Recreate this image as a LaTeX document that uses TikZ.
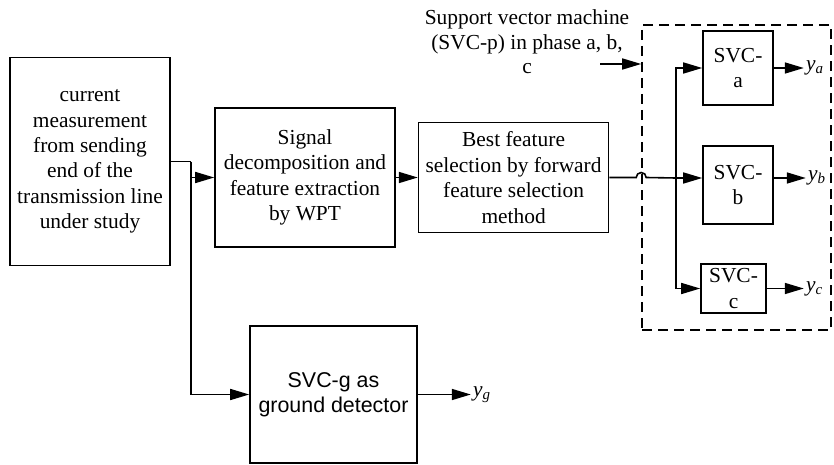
\documentclass[tikz,border=0pt]{standalone}
\usepackage{fontspec}
\setmainfont{Liberation Serif}
\setsansfont{Liberation Sans}
\usetikzlibrary{calc, arrows.meta, positioning}
\tikzset{
  >={Triangle[width=5.5pt,length=9.5pt]},
  base/.style = {rectangle, draw=black, line width=0.8pt, inner sep=0pt,
                 align=center, font=\fontsize{10.7}{12.7}\selectfont},
  block/.style = {base},
  svcbox/.style = {base, minimum width=35pt},
  outlabel/.style = {inner sep=1pt, font=\fontsize{10.7}{12.7}\selectfont\itshape},
  conn/.style = {->, line width=0.8pt},
}
\newcommand{\outy}[1]{y\textsubscript{#1}}

\begin{document}
\begin{tikzpicture}[x=0.5pt, y=-0.5pt]
  \useasboundingbox (0,0) rectangle (834,465);

  % main chain
  \node (meas) [block, minimum width=80pt, minimum height=104pt] at (90,161.5)
    {current\\measurement\\from sending\\end of the\\transmission line\\under study};
  \node (wpt) [block, minimum width=90pt, minimum height=69.5pt] at (305,177.5)
    {Signal\\decomposition and\\feature extraction\\by WPT};
  \node (ffs) [block, minimum width=95pt, minimum height=55pt, right=11pt of wpt]
    {Best feature\\selection by forward\\feature selection\\method};
  \node (svcg) [block, minimum width=83.5pt, minimum height=68.5pt, font=\fontsize{10.7}{12.7}\sffamily]
    at (333.5,394.5) {SVC-g as\\ground detector};

  % phase classifiers
  \node (group) [draw, dashed, dash pattern=on 5pt off 3pt, line width=0.8pt,
                 minimum width=94.5pt, minimum height=152.5pt] at (736.5,177.5) {};
  \node (svca) [svcbox, minimum height=37pt] at (738,68) {SVC-\\a};
  \node (svcb) [svcbox, minimum height=39pt] at (738,185) {SVC-\\b};
  \node (svcc) [svcbox, minimum width=32.5pt, minimum height=24.5pt] at (733.5,288.5) {SVC-\\c};
  \node (svmtext) [align=center, font=\fontsize{10.7}{12.25}\selectfont] at (527,42)
    {Support vector machine\\(SVC-p) in phase a, b,\\c};

  \coordinate (split) at (191,161.5);
  \coordinate (fork) at (676,178);
  \coordinate (pin) at (600,64);
  \coordinate (bout) at (svcb.east |- fork);

  % outputs
  \node (ya) [outlabel, right=15pt of svca.east] {\outy{a}};
  \node (yb) [outlabel, right=16pt of bout] {\outy{b}};
  \node (yc) [outlabel, right=18.5pt of svcc.east] {\outy{c}};
  \node (yg) [outlabel, right=26.5pt of svcg.east] {\outy{g}};

  \draw[line width=0.8pt] (meas.east) -- (split);
  \draw[conn] (split) |- (svcg.west);
  \draw[conn] (split |- wpt.west) -- (wpt.west);
  \draw[conn] (wpt) -- (ffs);
  \draw[line width=0.8pt] (ffs.east) -- ($(group.west |- ffs.east)+(-2.5pt,0)$)
    arc[start angle=180, end angle=0, radius=2.5pt] -- (fork);
  \draw[conn] (fork) |- (svca.west);
  \draw[conn] (fork) -- (svcb.west |- fork);
  \draw[conn] (fork) |- (svcc.west);
  \draw[conn] (pin) -- (pin -| group.west);
  \draw[conn] (svca) -- (ya);
  \draw[conn] (bout) -- (yb);
  \draw[conn] (svcc) -- (yc);
  \draw[conn] (svcg) -- (yg);
\end{tikzpicture}
\end{document}
